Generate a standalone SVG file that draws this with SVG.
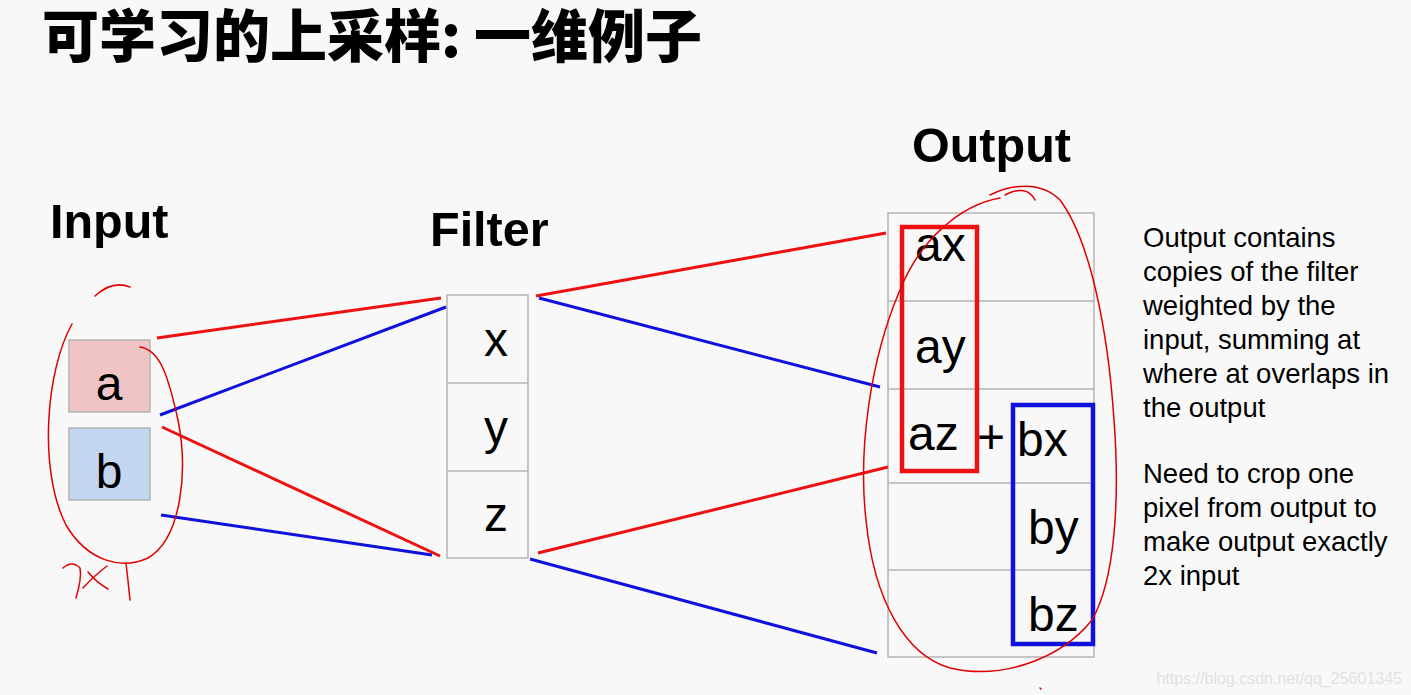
<svg xmlns="http://www.w3.org/2000/svg" width="1411" height="695" viewBox="0 0 1411 695">
<style>
.t{font-family:"Liberation Sans",Arial,sans-serif;fill:#000}
.h{font-weight:bold;font-size:48.5px}
.cell{fill:none;stroke:#b4b4b4;stroke-width:1.5}
.lbl{font-size:48px}
.note{font-size:27.5px}
.ink{fill:none;stroke:#e00000;stroke-width:1.5;stroke-linecap:round}
.r{stroke:#ee1111;stroke-width:3}
.b{stroke:#1111dd;stroke-width:3}
</style>
<rect width="1411" height="695" fill="#f8f8f8"/>
<text x="42" y="57" class="t" style="font-family:'Noto Sans CJK SC','Liberation Sans',sans-serif;font-weight:900;font-size:57px">可学习的上采样: 一维例子</text>
<text x="1402" y="684" text-anchor="end" style="font-family:'Liberation Sans',sans-serif;font-size:16px;fill:#e2e2e2">https://blog.csdn.net/qq_25601345</text>

<g id="input-label"><text x="50" y="238" class="t h">Input</text></g>
<g id="filter-label"><text x="430" y="246" class="t h">Filter</text></g>
<g id="output-label"><text x="912" y="162" class="t h">Output</text></g>

<g id="input-a"><rect x="69" y="340" width="81" height="72" fill="#f0c4c4" stroke="#b4b4b4" stroke-width="1.5"/><text x="109" y="400" text-anchor="middle" class="t lbl">a</text></g>
<g id="input-b"><rect x="69" y="428" width="81" height="72" fill="#c4d6f0" stroke="#b4b4b4" stroke-width="1.5"/><text x="109" y="488" text-anchor="middle" class="t lbl">b</text></g>

<g id="filter">
<rect x="447" y="295" width="81" height="263" fill="#f8f8f8" class="cell"/>
<line x1="447" y1="383" x2="528" y2="383" class="cell"/>
<line x1="447" y1="471" x2="528" y2="471" class="cell"/>
<text x="496" y="356" text-anchor="middle" class="t lbl">x</text>
<text x="496" y="444" text-anchor="middle" class="t lbl">y</text>
<text x="496" y="531" text-anchor="middle" class="t lbl">z</text>
</g>

<g id="output">
<rect x="888" y="213" width="206" height="444" class="cell"/>
<line x1="888" y1="301" x2="1094" y2="301" class="cell"/>
<line x1="888" y1="389" x2="1094" y2="389" class="cell"/>
<line x1="888" y1="483" x2="1094" y2="483" class="cell"/>
<line x1="888" y1="570" x2="1094" y2="570" class="cell"/>
</g>
<g id="output-a"><rect x="902" y="227" width="75" height="244" fill="none" stroke="#ee1111" stroke-width="4.5"/>
<text x="915" y="261" class="t lbl">ax</text>
<text x="915" y="363" class="t lbl">ay</text>
<text x="908" y="450" class="t lbl">az</text></g>
<text x="977" y="453" class="t lbl">+</text>
<g id="output-b"><rect x="1013" y="405" width="80" height="239" fill="none" stroke="#1111dd" stroke-width="4.5"/>
<text x="1017" y="456" class="t lbl">bx</text>
<text x="1028" y="544" class="t lbl">by</text>
<text x="1028" y="631" class="t lbl">bz</text></g>

<g id="connectors">
<line x1="157" y1="338" x2="441" y2="298" class="r"/>
<line x1="160" y1="415" x2="446" y2="307" class="b"/>
<line x1="162" y1="427" x2="440" y2="556" class="r"/>
<line x1="161" y1="515" x2="432" y2="555" class="b"/>
<line x1="536" y1="296" x2="886" y2="233" class="r"/>
<line x1="539" y1="298" x2="880" y2="387" class="b"/>
<line x1="538" y1="553" x2="888" y2="467" class="r"/>
<line x1="530" y1="559" x2="877" y2="653" class="b"/>
</g>

<g id="annotation-text" class="t note">
<text x="1143" y="247">Output contains</text>
<text x="1143" y="281">copies of the filter</text>
<text x="1143" y="315">weighted by the</text>
<text x="1143" y="349">input, summing at</text>
<text x="1143" y="383">where at overlaps in</text>
<text x="1143" y="417">the output</text>
<text x="1143" y="483">Need to crop one</text>
<text x="1143" y="517">pixel from output to</text>
<text x="1143" y="551">make output exactly</text>
<text x="1143" y="585">2x input</text>
</g>

<g id="handwriting">
<path class="ink" d="M95,296 Q112,280 130,287"/>
<path class="ink" d="M72,324 C46,370 38,470 66,525 C88,562 122,570 148,558 C182,538 188,470 178,420 C168,375 160,350 140,347"/>
<path class="ink" d="M63,568 Q72,560 80,568 Q82,578 76,598"/>
<path class="ink" d="M83,588 Q95,575 107,566 M88,572 Q96,582 108,589"/>
<path class="ink" d="M126,563 Q128,580 130,600"/>
<path class="ink" d="M1005,195 C1020,187 1030,190 1035,200 M1000,198 C960,205 920,240 900,290 C870,360 858,450 866,520 C874,600 905,655 950,668 C1000,680 1060,660 1092,620 C1115,580 1120,500 1114,420 C1108,330 1090,240 1060,200 C1040,180 1010,185 990,195"/>
<path class="ink" d="M1040,688 l1,1"/>
</g>
</svg>
